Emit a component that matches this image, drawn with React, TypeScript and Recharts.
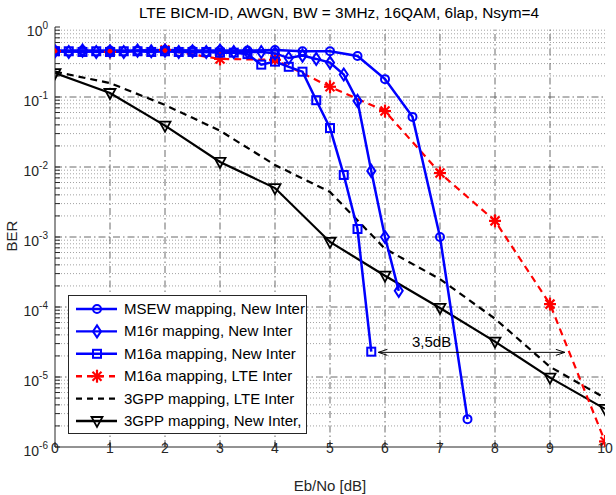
import React from "react";
import { LineChart, Line, XAxis, YAxis, ReferenceLine } from "recharts";

// Eb/No grid points and measured BER per curve
const EBNO_INT = [0, 1, 2, 3, 4, 5, 6, 7, 8, 9, 10];
const MSEW_X = [0, 0.5, 1, 1.5, 2, 2.5, 3, 3.5, 4, 4.5, 5, 5.5, 6, 6.5, 7, 7.5];
const MSEW_BER = [0.46, 0.46, 0.46, 0.46, 0.47, 0.46, 0.46, 0.46, 0.47, 0.45, 0.45, 0.385, 0.18, 0.052, 0.001, 2.5e-6];
const M16R_X = [0, 0.25, 0.5, 0.75, 1, 1.25, 1.5, 1.75, 2, 2.25, 2.5, 2.75, 3, 3.25, 3.5, 3.75, 4, 4.25, 4.5, 4.75, 5, 5.25, 5.5, 5.75, 6, 6.25];
const M16R_BER = [0.45, 0.44, 0.46, 0.44, 0.45, 0.44, 0.46, 0.45, 0.46, 0.44, 0.45, 0.44, 0.46, 0.44, 0.44, 0.44, 0.42, 0.36, 0.39, 0.35, 0.31, 0.21, 0.088, 0.0088, 0.001, 1.7e-4];
const M16A_X = [0, 0.25, 0.5, 0.75, 1, 1.25, 1.5, 1.75, 2, 2.25, 2.5, 2.75, 3, 3.25, 3.5, 3.75, 4, 4.25, 4.5, 4.75, 5, 5.25, 5.5, 5.75];
const M16A_BER = [0.45, 0.45, 0.44, 0.45, 0.44, 0.45, 0.45, 0.44, 0.45, 0.44, 0.44, 0.44, 0.43, 0.43, 0.41, 0.29, 0.32, 0.27, 0.23, 0.09, 0.036, 0.0077, 0.0013, 2.3e-5];
const M16A_LTE_BER = [0.45, 0.44, 0.47, 0.35, 0.34, 0.14, 0.063, 0.0082, 0.0017, 1.1e-4, 1.2e-6];
const GPP_LTE_BER = [0.23, 0.158, 0.077, 0.033, 0.0107, 0.0044, 6.8e-4, 2.5e-4, 6.8e-5, 1.4e-5, 5e-6];
const GPP_NEW_BER = [0.22, 0.114, 0.039, 0.0118, 0.005, 8.5e-4, 2.8e-4, 9.7e-5, 3.2e-5, 9.8e-6, 3.5e-6];

const LEGEND_LABELS = [
  "MSEW mapping, New Inter",
  "M16r mapping, New Inter",
  "M16a mapping, New Inter",
  "M16a mapping, LTE Inter",
  "3GPP mapping, LTE Inter",
  "3GPP mapping, New Inter,",
];
const TITLE = "LTE BICM-ID, AWGN, BW = 3MHz, 16QAM, 6lap, Nsym=4";

// 3,5dB gap annotation
const GAP_FROM = 5.88;
const GAP_TO = 9.27;
const GAP_BER = 2.25e-5;
const GAP_TEXT = "3,5dB";

const X_TICKS = EBNO_INT;
const DECADES = [-6, -5, -4, -3, -2, -1, 0];
const MAJOR_Y = DECADES.map(e => Math.pow(10, e));
const MINOR_Y: number[] = [];
DECADES.slice(0, -1).forEach(e => {
  for (let m = 2; m <= 9; m++) MINOR_Y.push(m * Math.pow(10, e));
});
const Y_TICKS = [...MAJOR_Y, ...MINOR_Y].sort((a, b) => a - b);

const toPoints = (xs: number[], ys: number[]) => xs.map((x, i) => ({ x, y: ys[i] }));

const BLUE = "#0000ff";
const RED = "#ff0000";
const INK = "#262626";
const FONT = "'Liberation Sans', Arial, sans-serif";

// marker shapes
const circle = (c: string) => (p: any) => (
  <circle key={p.index} cx={p.cx} cy={p.cy} r={4} fill="none" stroke={c} strokeWidth={2} />
);
const diamond = (c: string) => (p: any) => (
  <path key={p.index} d={`M${p.cx},${p.cy - 6}L${p.cx + 4},${p.cy}L${p.cx},${p.cy + 6}L${p.cx - 4},${p.cy}Z`} fill="none" stroke={c} strokeWidth={2} />
);
const square = (c: string) => (p: any) => (
  <rect key={p.index} x={p.cx - 4} y={p.cy - 4} width={8} height={8} fill="none" stroke={c} strokeWidth={2} />
);
const star = (c: string) => (p: any) => (
  <g key={p.index} stroke={c} strokeWidth={2.2}>
    <line x1={p.cx - 6} y1={p.cy} x2={p.cx + 6} y2={p.cy} />
    <line x1={p.cx} y1={p.cy - 6.5} x2={p.cx} y2={p.cy + 6.5} />
    <line x1={p.cx - 4.5} y1={p.cy - 4.5} x2={p.cx + 4.5} y2={p.cy + 4.5} />
    <line x1={p.cx - 4.5} y1={p.cy + 4.5} x2={p.cx + 4.5} y2={p.cy - 4.5} />
  </g>
);
const triDown = (c: string) => (p: any) => (
  <path key={p.index} d={`M${p.cx - 5.5},${p.cy - 4}L${p.cx + 5.5},${p.cy - 4}L${p.cx},${p.cy + 6}Z`} fill="none" stroke={c} strokeWidth={1.8} />
);

const YTick = (props: any) => {
  const { x, y, payload } = props;
  const e = Math.log10(payload.value);
  if (Math.abs(e - Math.round(e)) > 1e-6) return <g />;
  return (
    <text x={x - 12} y={y + 9} textAnchor="end" fontFamily={FONT} fontSize={14} fill={INK}>
      <tspan>10</tspan>
      <tspan dy={-7} fontSize={10}>{Math.round(e)}</tspan>
    </text>
  );
};

const XTick = (props: any) => {
  const { x, y, payload } = props;
  return (
    <text x={x} y={y + 11} textAnchor="middle" fontFamily={FONT} fontSize={14} fill={INK}>
      {payload.value}
    </text>
  );
};

const Blank = () => <g />;

const GapArrow = (p: any) => {
  const { x1, y1, x2 } = p;
  return (
    <g>
      <line x1={x1} y1={y1} x2={x2} y2={y1} stroke="#000" strokeWidth={1} />
      <path d={`M${x1 + 9},${y1 - 3}L${x1},${y1}L${x1 + 9},${y1 + 3}`} fill="none" stroke="#000" strokeWidth={1} />
      <path d={`M${x2 - 9},${y1 - 3}L${x2},${y1}L${x2 - 9},${y1 + 3}`} fill="none" stroke="#000" strokeWidth={1} />
      <text x={(x1 + x2) / 2 - 40} y={y1 - 5} textAnchor="middle" fontFamily={FONT} fontSize={15} fill="#000">
        {GAP_TEXT}
      </text>
    </g>
  );
};

const LEGEND_STYLES = [
  { color: BLUE, dash: undefined, marker: circle(BLUE) },
  { color: BLUE, dash: undefined, marker: diamond(BLUE) },
  { color: BLUE, dash: undefined, marker: square(BLUE) },
  { color: RED, dash: "6 5", marker: star(RED) },
  { color: "#000", dash: "6 5", marker: null },
  { color: "#000", dash: undefined, marker: triDown("#000") },
];

export default function App() {
  const majorDash = "7 3 1.5 3";
  return (
    <div style={{ position: "fixed", left: 0, top: 0, width: 616, height: 495, background: "#fff" }}>
      <LineChart width={616} height={495} margin={{ top: 27, right: 11, bottom: 0, left: 0 }}>
        <XAxis dataKey="x" type="number" domain={[0, 10]} ticks={X_TICKS} interval={0} allowDataOverflow
          height={48} tickSize={-5} tickMargin={0} tick={<XTick />} stroke={INK} tickLine={{ stroke: INK }} />
        <XAxis xAxisId="top" orientation="top" type="number" domain={[0, 10]} ticks={X_TICKS} interval={0}
          height={0} tickSize={-5} tick={<Blank />} stroke={INK} tickLine={{ stroke: INK }} />
        <YAxis type="number" scale="log" domain={[1e-6, 1]} ticks={Y_TICKS} interval={0} allowDataOverflow
          width={55} tickSize={-5} tickMargin={0} tick={<YTick />} stroke={INK} tickLine={{ stroke: INK }} />
        <YAxis yAxisId="right" orientation="right" type="number" scale="log" domain={[1e-6, 1]} ticks={Y_TICKS}
          interval={0} allowDataOverflow width={0} tickSize={-5} tick={<Blank />} stroke={INK} tickLine={{ stroke: INK }} />

        {MINOR_Y.map(v => (
          <ReferenceLine key={"mi" + v} y={v} stroke="#8a8a8a" strokeWidth={0.8} strokeDasharray="1 2" />
        ))}
        {MAJOR_Y.slice(1, -1).map(v => (
          <ReferenceLine key={"my" + v} y={v} stroke="#5a5a5a" strokeWidth={0.9} strokeDasharray={majorDash} />
        ))}
        {X_TICKS.slice(1, -1).map(v => (
          <ReferenceLine key={"mx" + v} x={v} stroke="#5a5a5a" strokeWidth={0.9} strokeDasharray={majorDash} />
        ))}

        <Line data={toPoints(EBNO_INT, GPP_LTE_BER)} dataKey="y" stroke="#000" strokeWidth={2.2} strokeDasharray="7 5"
          dot={false} isAnimationActive={false} />
        <Line data={toPoints(EBNO_INT, GPP_NEW_BER)} dataKey="y" stroke="#000" strokeWidth={2.2}
          dot={triDown("#000")} isAnimationActive={false} />
        <Line data={toPoints(EBNO_INT, M16A_LTE_BER)} dataKey="y" stroke={RED} strokeWidth={2.2} strokeDasharray="7 5"
          dot={star(RED)} isAnimationActive={false} />
        <Line data={toPoints(M16A_X, M16A_BER)} dataKey="y" stroke={BLUE} strokeWidth={2.5}
          dot={square(BLUE)} isAnimationActive={false} />
        <Line data={toPoints(M16R_X, M16R_BER)} dataKey="y" stroke={BLUE} strokeWidth={2.5}
          dot={diamond(BLUE)} isAnimationActive={false} />
        <Line data={toPoints(MSEW_X, MSEW_BER)} dataKey="y" stroke={BLUE} strokeWidth={2.5}
          dot={circle(BLUE)} isAnimationActive={false} />

        <ReferenceLine segment={[{ x: GAP_FROM, y: GAP_BER }, { x: GAP_TO, y: GAP_BER }]} shape={GapArrow} />
      </LineChart>

      <svg width={616} height={495} style={{ position: "absolute", left: 0, top: 0, pointerEvents: "none" }}>
        <text x={339} y={18} textAnchor="middle" fontFamily={FONT} fontSize={15.4} fill="#000">{TITLE}</text>
        <text x={330} y={491} textAnchor="middle" fontFamily={FONT} fontSize={15} fill={INK}>Eb/No [dB]</text>
        <text transform="translate(17,236) rotate(-90)" textAnchor="middle" fontFamily={FONT} fontSize={15} fill={INK}>BER</text>

        <g transform="translate(68,295)">
          <rect x={0.5} y={0.5} width={238} height={138} fill="#fff" stroke={INK} strokeWidth={1} />
          {LEGEND_LABELS.map((label, i) => {
            const cy = 14 + i * 22.4;
            const st = LEGEND_STYLES[i];
            return (
              <g key={label}>
                <line x1={8} y1={cy} x2={49} y2={cy} stroke={st.color} strokeWidth={2.4} strokeDasharray={st.dash} />
                {st.marker && st.marker({ cx: 29, cy, index: i })}
                <text x={56} y={cy + 5} fontFamily={FONT} fontSize={15} fill="#000">{label}</text>
              </g>
            );
          })}
        </g>
      </svg>
    </div>
  );
}
